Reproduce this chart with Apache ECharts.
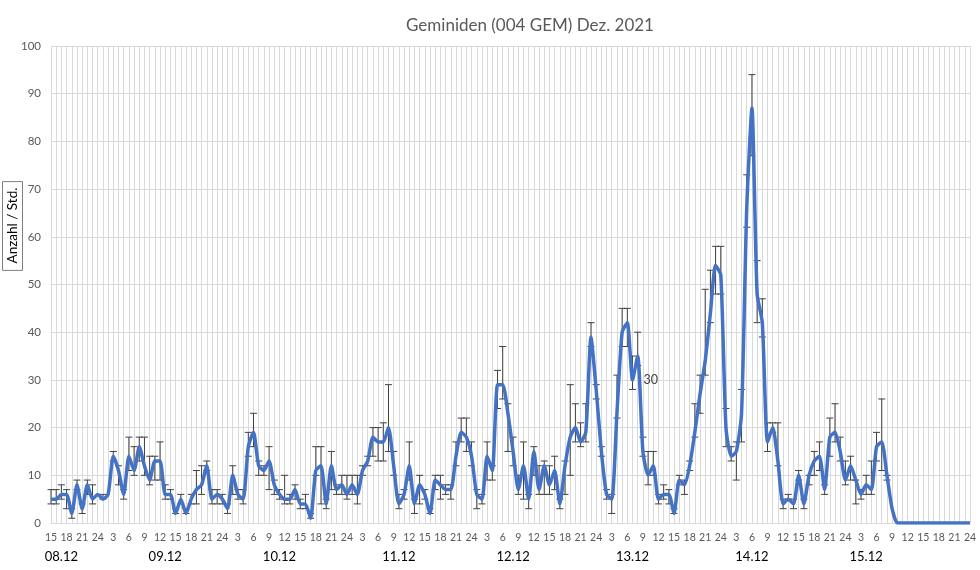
<!DOCTYPE html>
<html>
<head>
<meta charset="utf-8">
<script src="https://cdn.jsdelivr.net/npm/echarts@6/dist/echarts.min.js"></script>
<style>
html,body{margin:0;padding:0;background:#fff;}
#chart{width:980px;height:570px;}
</style>
</head>
<body>
<div id="chart"></div>
<script>
// hour categories (08.12 15h ... 15.12 24h)
const hours = [
 15,16,17,18,19,20,21,22,23,24,
 1,2,3,4,5,6,7,8,9,10,11,12,13,14,15,16,17,18,19,20,21,22,23,24,
 1,2,3,4,5,6,7,8,9,10,11,12,13,14,15,16,17,18,19,20,21,22,23,24,
 1,2,3,4,5,6,7,8,9,10,11,12,13,14,15,16,17,18,19,20,21,22,23,24,
 1,2,3,4,5,6,7,8,9,10,11,12,13,14,15,16,17,18,19,20,21,22,23,24,
 1,2,3,4,5,6,7,8,9,10,11,12,13,14,15,16,17,18,19,20,21,22,23,24,
 1,2,3,4,5,6,7,8,9,10,11,12,13,14,15,16,17,18,19,20,21,22,23,24,
 1,2,3,4,5,6,7,8,9,10,11,12,13,14,15,16,17,18,19,20,21,22,23,24
];
const dateLabels = ['08.12','09.12','10.12','11.12','12.12','13.12','14.12','15.12'];
const dateLabelIdx = [2, 22, 44, 67, 89, 112, 135, 157];

// meteors per hour
const counts = [
 5,5,6,6,2,8,3,8,5,6,
 5,6,14,11,6,14,11,16,12,9,13,13,6,6,2,5,2,5,7,8,12,5,6,5,
 3,10,6,5,16,19,12,11,13,8,6,5,5,7,4,4,1,11,12,4,12,7,8,6,
 8,6,11,13,18,17,17,20,12,4,6,12,4,8,6,2,9,8,7,7,14,19,18,14,
 6,5,14,11,29,29,23,15,7,12,5,15,7,12,8,11,4,12,18,20,17,19,39,28,
 15,6,5,23,40,42,30,35,15,10,12,5,6,6,2,9,8,12,19,27,34,44,54,52,
 20,14,15,23,66,87,48,42,17,20,13,4,5,4,10,4,10,13,14,7,18,19,15,9,
 12,9,6,8,7,16,17,10,3,0,0,0,0,0,0,0,0,0,0,0,0,0,0,0
];
const errPlus = [
 2,2,2,1,1,1,1,1,3,0,
 1,0,1,1,1,4,5,2,6,5,1,4,2,1,1,1,1,1,4,4,1,2,1,1,
 1,2,1,2,3,4,1,1,3,1,1,5,1,1,1,2,1,5,4,1,3,1,2,4,
 2,4,1,1,2,3,4,9,3,2,1,5,1,2,1,1,1,2,1,1,3,3,4,3,
 1,1,3,1,3,8,2,3,3,5,1,1,5,1,4,3,1,1,11,5,4,6,3,1,
 1,1,1,8,5,3,5,5,3,5,3,1,2,1,1,1,1,1,6,4,15,9,4,6,
 4,2,2,5,7,7,7,5,4,1,8,1,1,1,1,1,0,2,3,1,4,6,3,4,
 2,0,1,2,6,3,9,0,0,0,0,0,0,0,0,0,0,0,0,0,0,0,0,0
];
const errMinus = [
 1,1,1,3,1,1,1,2,1,0,
 0,0,1,3,1,3,1,3,2,1,4,4,1,1,0,1,0,1,3,2,1,1,2,1,
 1,4,1,1,2,3,2,1,6,2,1,1,1,2,1,1,0,1,8,1,5,1,2,1,
 2,2,1,1,4,4,4,5,2,1,1,3,2,4,1,0,2,3,1,2,2,2,3,2,
 3,1,5,2,5,3,8,3,1,7,2,5,1,6,2,4,1,6,8,3,1,2,2,2,
 1,1,3,1,3,5,2,2,1,2,2,1,1,2,0,1,2,1,1,4,3,2,6,4,
 4,1,6,6,4,10,6,3,2,1,1,1,0,1,1,1,2,3,3,1,4,2,2,1,
 3,5,1,2,1,3,6,1,0,0,0,0,0,0,0,0,0,0,0,0,0,0,0,0
];
const labelledIdx = 112;

const categories = hours.map(String);
const lineData = counts.map((v, i) => i === labelledIdx
  ? {value: v, symbol: 'circle', symbolSize: 2, itemStyle: {color: '#4472C4'},
     label: {show: true, position: 'right', distance: 10, fontSize: 12.5, color: '#404040', fontFamily: 'Lato'}}
  : {value: v, symbol: 'none'});
const errData = [];
counts.forEach((v, i) => {
  if (errPlus[i] > 0 || errMinus[i] > 0) errData.push([i, v - errMinus[i], v + errPlus[i]]);
});

const chart = echarts.init(document.getElementById('chart'));
const FONT = 'Lato';
chart.setOption({
  animation: false,
  backgroundColor: '#fff',
  title: {
    text: 'Geminiden (004 GEM) Dez. 2021',
    left: 525, top: 12, textAlign: 'center',
    textStyle: {fontFamily: FONT, fontSize: 17, fontWeight: 'normal', color: '#595959'}
  },
  grid: {left: 51, right: 10, top: 46, bottom: 47, containLabel: false},
  xAxis: [{
    type: 'category', data: categories, boundaryGap: false,
    axisLine: {lineStyle: {color: '#d9d9d9', width: 1}},
    axisTick: {show: false},
    axisLabel: {interval: 2, fontFamily: FONT, fontSize: 10.5, color: '#595959', margin: 9},
    splitLine: {show: true, interval: 0, lineStyle: {color: '#d9d9d9', width: 1}}
  }, {
    type: 'category', data: categories, boundaryGap: false, position: 'bottom',
    axisLine: {show: false}, axisTick: {show: false}, splitLine: {show: false},
    axisLabel: {
      interval: 0, fontFamily: FONT, fontSize: 13, color: '#000', margin: 27,
      formatter: function (val, idx) { const k = dateLabelIdx.indexOf(idx); return k >= 0 ? dateLabels[k] : ''; }
    }
  }],
  yAxis: {
    type: 'value', min: 0, max: 100, interval: 10,
    axisLine: {show: false}, axisTick: {show: false},
    axisLabel: {fontFamily: FONT, fontSize: 11.5, color: '#595959', margin: 10},
    splitLine: {lineStyle: {color: '#d9d9d9', width: 1}}
  },
  graphic: [{
    type: 'text', x: 12.5, y: 226, rotation: Math.PI / 2,
    style: {
      text: 'Anzahl / Std.', font: '13.5px Lato', fill: '#000',
      align: 'center', verticalAlign: 'middle',
      borderColor: '#7f7f7f', borderWidth: 1, padding: [3, 6, 3, 7]
    }
  }],
  series: [{
    type: 'custom', xAxisIndex: 0, z: 1,
    encode: {x: 0, y: [1, 2]},
    data: errData,
    renderItem: function (params, api) {
      const lo = api.coord([api.value(0), api.value(1)]);
      const hi = api.coord([api.value(0), api.value(2)]);
      const w = 3.5, st = {stroke: '#404040', lineWidth: 1};
      return {type: 'group', children: [
        {type: 'line', shape: {x1: lo[0], y1: lo[1], x2: hi[0], y2: hi[1]}, style: st},
        {type: 'line', shape: {x1: lo[0] - w, y1: lo[1], x2: lo[0] + w, y2: lo[1]}, style: st},
        {type: 'line', shape: {x1: hi[0] - w, y1: hi[1], x2: hi[0] + w, y2: hi[1]}, style: st}
      ]};
    }
  }, {
    type: 'line', xAxisIndex: 0, z: 3, data: lineData,
    showSymbol: true, showAllSymbol: true, smooth: 0.2,
    lineStyle: {color: '#4472C4', width: 3.5}
  }]
});
</script>
</body>
</html>
